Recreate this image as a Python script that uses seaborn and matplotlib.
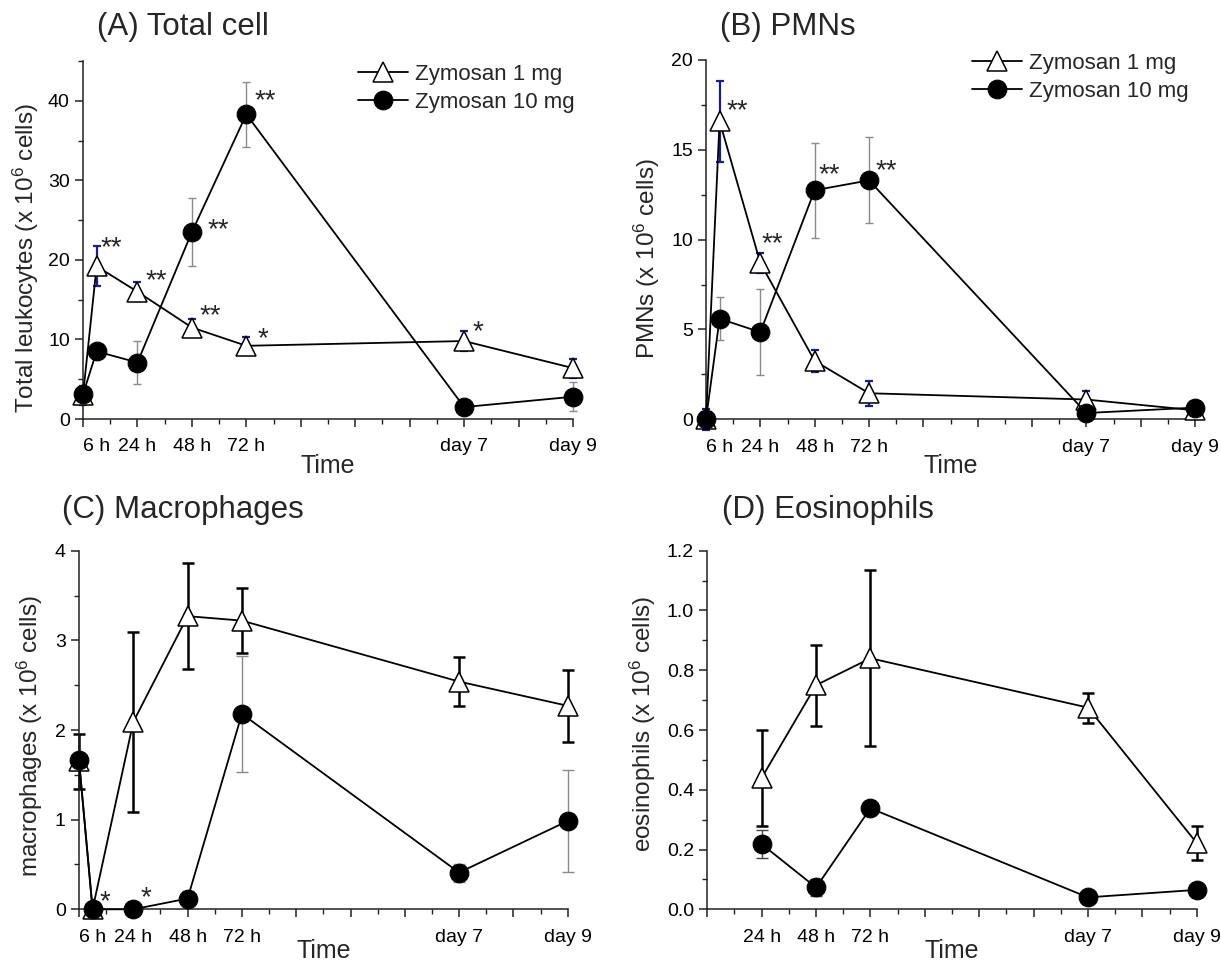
import numpy as np
import pandas as pd
import matplotlib
matplotlib.use("Agg")
import matplotlib.pyplot as plt
import seaborn as sns
from matplotlib.ticker import FixedLocator, FormatStrFormatter, MultipleLocator

# ---------------- data ----------------
hours = [0, 6, 24, 48, 72, 168, 216]
hours_eos = [24, 48, 72, 168, 216]
series_names = ["Zymosan 1 mg", "Zymosan 10 mg"]

total_1mg = [3.0, 19.2, 16.0, 11.5, 9.2, 9.8, 6.4]
total_1mg_err = [1.2, 2.5, 1.2, 1.1, 1.1, 1.3, 1.2]
total_10mg = [3.1, 8.5, 7.1, 23.5, 38.3, 1.5, 2.8]
total_10mg_err = [0.5, 0.5, 2.7, 4.3, 4.1, 0.3, 1.8]

pmn_1mg = [0.0, 16.6, 8.7, 3.25, 1.45, 1.1, 0.5]
pmn_1mg_err = [0.6, 2.25, 0.55, 0.6, 0.7, 0.5, 0.4]
pmn_10mg = [0.0, 5.6, 4.85, 12.75, 13.3, 0.35, 0.65]
pmn_10mg_err = [0.0, 1.2, 2.4, 2.65, 2.4, 0.3, 0.3]

mac_1mg = [1.65, 0.0, 2.09, 3.27, 3.22, 2.54, 2.27]
mac_1mg_err = [0.31, 0.0, 1.0, 0.59, 0.36, 0.27, 0.40]
mac_10mg = [1.67, 0.0, 0.0, 0.12, 2.18, 0.41, 0.985]
mac_10mg_err = [0.0, 0.0, 0.0, 0.08, 0.65, 0.1, 0.57]

eos_1mg = [0.44, 0.75, 0.84, 0.675, 0.222]
eos_1mg_err = [0.16, 0.135, 0.295, 0.05, 0.058]
eos_10mg = [0.218, 0.073, 0.338, 0.04, 0.065]
eos_10mg_err = [0.047, 0.03, 0.01, 0.01, 0.015]

tick_hours = [6, 24, 48, 72, 168, 216]
tick_labels = ["6 h", "24 h", "48 h", "72 h", "day 7", "day 9"]

# significance marks: (series index, point index, text)
total_stars = [(0, 1, "**"), (0, 2, "**"), (0, 3, "**"), (0, 4, "*"),
               (1, 3, "**"), (1, 4, "**"), (0, 5, "*")]
pmn_stars = [(0, 1, "**"), (0, 2, "**"), (1, 3, "**"), (1, 4, "**")]
mac_stars = [(1, 1, "*"), (1, 2, "*")]

# ---------------- style ----------------
sns.set_style("ticks")
plt.rcParams["font.family"] = ["Liberation Sans", "DejaVu Sans"]
plt.rcParams["mathtext.fontset"] = "custom"
plt.rcParams["mathtext.rm"] = "Liberation Sans"
plt.rcParams["mathtext.it"] = "Liberation Sans"
plt.rcParams["mathtext.bf"] = "Liberation Sans"

W, H = 1221, 963
fig = plt.figure(figsize=(W / 100, H / 100), dpi=100)


def fig_rect(left, top, right, bottom):
    return [left / W, 1 - bottom / H, (right - left) / W, (bottom - top) / H]


rects = [(83, 61, 573, 419), (706, 60, 1195, 419.3),
         (79, 550.7, 567.7, 909.3), (707.3, 550.7, 1196.7, 909.3)]
axA, axB, axC, axD = [fig.add_axes(fig_rect(*r)) for r in rects]

NAVY = "#1c1c8c"
GRAY = "#8a8a8a"


def draw(ax, x, y1, e1, y10, e10, c1, lw1, cap1, c10, lw10, cap10):
    df = pd.DataFrame({
        "Time": list(x) * 2,
        "value": list(y1) + list(y10),
        "group": [series_names[0]] * len(x) + [series_names[1]] * len(x),
    })
    for yv, ev, col, lw, cs in ((y1, e1, c1, lw1, cap1), (y10, e10, c10, lw10, cap10)):
        eb = ax.errorbar(x, yv, yerr=ev, fmt="none", ecolor=col, elinewidth=lw,
                         capsize=cs, capthick=lw, zorder=2)
        for art in list(eb.lines[1]) + list(eb.lines[2]):
            art.set_clip_on(False)
    sns.lineplot(data=df[df.group == series_names[0]], x="Time", y="value", ax=ax,
                 color="black", marker="^", markersize=15, markerfacecolor="white",
                 markeredgecolor="black", markeredgewidth=1.1, linewidth=1.3,
                 label=series_names[0], errorbar=None, sort=False, clip_on=False, zorder=4)
    sns.lineplot(data=df[df.group == series_names[1]], x="Time", y="value", ax=ax,
                 color="black", marker="o", markersize=13.5, markerfacecolor="black",
                 markeredgecolor="black", linewidth=1.3,
                 label=series_names[1], errorbar=None, sort=False, clip_on=False, zorder=5)


draw(axA, hours, total_1mg, total_1mg_err, total_10mg, total_10mg_err,
     NAVY, 1.6, 3.0, GRAY, 1.0, 3.0)
draw(axB, hours, pmn_1mg, pmn_1mg_err, pmn_10mg, pmn_10mg_err,
     NAVY, 1.6, 3.0, GRAY, 1.0, 3.0)
draw(axC, hours, mac_1mg, mac_1mg_err, mac_10mg, mac_10mg_err,
     "black", 1.8, 4.0, GRAY, 1.0, 4.0)
draw(axD, hours_eos, eos_1mg, eos_1mg_err, eos_10mg, eos_10mg_err,
     "black", 1.8, 4.0, "#444444", 1.0, 4.0)

ylabels = [r"Total leukocytes (x 10$^{6}$ cells)", r"PMNs (x 10$^{6}$ cells)",
           r"macrophages (x 10$^{6}$ cells)", r"eosinophils (x 10$^{6}$ cells)"]
ylims = [(0, 45), (0, 20), (0, 4), (0, 1.2)]
ymajor = [10, 5, 1, 0.2]
yfmt = ["%d", "%d", "%d", "%.1f"]
# label centres in pixels: (ylabel x, ylabel y, xlabel y)
label_px = [(26, 258, 466), (647, 259, 466), (30, 736, 951), (643, 724, 951)]

for i, ax in enumerate([axA, axB, axC, axD]):
    ax.set_xlim(0, 216)
    ax.set_ylim(*ylims[i])
    sns.despine(ax=ax)
    for s in ("left", "bottom"):
        ax.spines[s].set_linewidth(1.1)
        ax.spines[s].set_color("#222222")
    major = list(range(0, 217, 24))
    labelled = dict(zip(tick_hours, tick_labels))
    if i == 3:
        labelled.pop(6)
    pos = sorted(set(major) | set(labelled.keys()))
    ax.xaxis.set_major_locator(FixedLocator(pos))
    ax.set_xticklabels([labelled.get(p, "") for p in pos])
    ax.xaxis.set_minor_locator(FixedLocator(list(range(12, 217, 24))))
    ax.yaxis.set_major_locator(MultipleLocator(ymajor[i]))
    ax.yaxis.set_minor_locator(MultipleLocator(ymajor[i] / 2))
    ax.yaxis.set_major_formatter(FormatStrFormatter(yfmt[i]))
    ax.tick_params(axis="both", which="major", direction="out", length=6, width=1.1,
                   labelsize=14, colors="#222222", labelcolor="black")
    ax.tick_params(axis="both", which="minor", direction="out", length=3.5, width=1.0,
                   colors="#222222")
    ax.tick_params(axis="x", which="major", pad=8)
    if 6 in pos:
        t = ax.xaxis.get_major_ticks()[pos.index(6)]
        t.tick1line.set_visible(False)
    ax.set_xlabel("Time", fontsize=18)
    ax.set_ylabel(ylabels[i], fontsize=17.5)
    l, tp, r, b = rects[i]
    ylx, yly, xly = label_px[i]
    ax.xaxis.set_label_coords(0.5, -(xly - b) / (b - tp))
    ax.xaxis.label.set_va("center")
    ax.yaxis.set_label_coords(-(l - ylx) / (r - l), (b - yly) / (b - tp))
    ax.yaxis.label.set_va("center")
    leg = ax.get_legend()
    if leg is not None:
        leg.remove()

# asterisks
def stars(ax, x, series, marks, offsets):
    for (si, pi, txt), (dx, dy) in zip(marks, offsets):
        ax.annotate(txt, (x[pi], series[si][pi]), xytext=(dx, dy),
                    textcoords="offset pixels", ha="left", va="center",
                    fontsize=20, annotation_clip=False)

stars(axA, hours, [total_1mg, total_10mg], total_stars,
      [(4, 18), (8, 11), (8, 11), (11, 7), (16, 2), (8, 13), (8, 9)])
stars(axB, hours, [pmn_1mg, pmn_10mg], pmn_stars,
      [(7, 10), (1, 19), (4, 15), (7, 9)])
stars(axC, hours, [mac_1mg, mac_10mg], mac_stars,
      [(7, 7), (7, 11)])

# legends
for ax, (lx, ly) in ((axA, (358, 64)), (axB, (972, 53))):
    h, l = ax.get_legend_handles_labels()
    ax.legend(h[:2], l[:2], loc="upper left", bbox_to_anchor=(lx / W, 1 - ly / H),
              bbox_transform=fig.transFigure, frameon=False, fontsize=16,
              handlelength=2.25, handletextpad=0.3, labelspacing=0.3,
              borderpad=0, borderaxespad=0)

# panel titles
fig.text(97 / W, 1 - 27 / H, "(A) Total cell", fontsize=22.5, va="center", ha="left")
fig.text(720 / W, 1 - 27 / H, "(B) PMNs", fontsize=22.5, va="center", ha="left")
fig.text(62 / W, 1 - 510 / H, "(C) Macrophages", fontsize=22.5, va="center", ha="left")
fig.text(722 / W, 1 - 510 / H, "(D) Eosinophils", fontsize=22.5, va="center", ha="left")

fig.savefig("out.png", dpi=100)
